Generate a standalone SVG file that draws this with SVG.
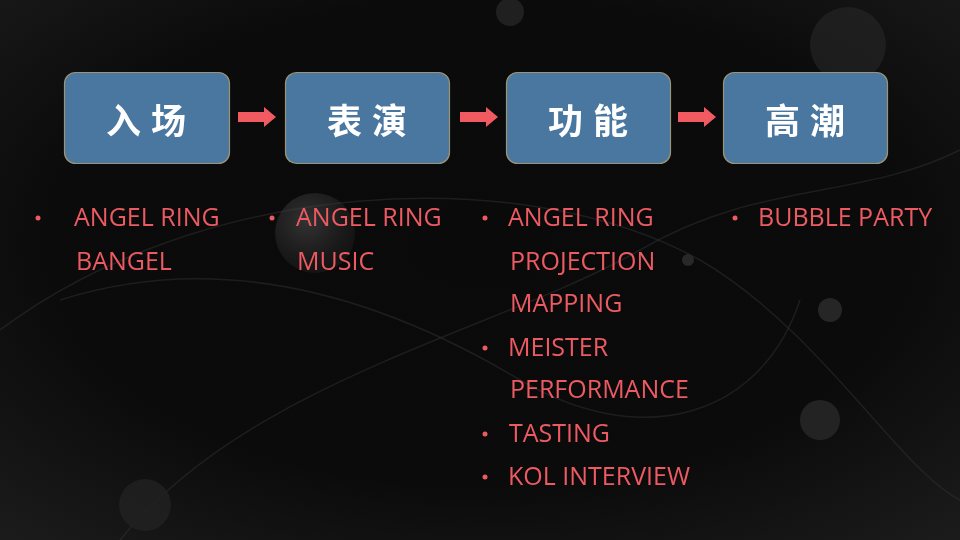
<svg xmlns="http://www.w3.org/2000/svg" width="960" height="540" viewBox="0 0 960 540">
<defs>
<radialGradient id="bg" cx="0.5" cy="0.45" r="0.75">
<stop offset="0" stop-color="#0a0a0a"/>
<stop offset="0.6" stop-color="#0b0b0b"/>
<stop offset="1" stop-color="#1c1c1c"/>
</radialGradient>
<radialGradient id="bub" cx="0.4" cy="0.35" r="0.6">
<stop offset="0" stop-color="#6a6a6a" stop-opacity="0.55"/>
<stop offset="1" stop-color="#333" stop-opacity="0.35"/>
</radialGradient>
<marker id="arr" viewBox="0 0 12 20" refX="0" refY="10" markerWidth="12" markerHeight="20" markerUnits="userSpaceOnUse" orient="auto">
<path d="M0,0 L12,10 L0,20 Z" fill="#f05a60"/>
</marker>
<style>
.box{fill:#4a77a0;stroke:#9c9474;stroke-width:1.2}
.cjk{font-family:"Noto Sans CJK SC","Noto Sans",sans-serif;font-weight:bold;font-size:35px;fill:#ffffff;text-anchor:middle;letter-spacing:10px}
.li{font-family:"Open Sans","Noto Sans",sans-serif;font-size:25px;fill:#ec5a62}
.dot{fill:#ec5a62}
.con{stroke:#f05a60;stroke-width:10;fill:none}
.deco{fill:none;stroke:#333;stroke-width:1.5;opacity:0.6}
</style>
</defs>
<rect width="960" height="540" fill="url(#bg)"/>
<g id="background" opacity="0.8">
<path class="deco" d="M0,330 C200,180 520,160 700,260 C820,330 900,470 960,500"/>
<path class="deco" d="M120,540 C250,380 500,330 640,250 C760,180 860,200 960,150"/>
<path class="deco" d="M60,300 C250,240 420,320 520,380 C640,450 760,420 800,300"/>
<circle cx="315" cy="233" r="40" fill="url(#bub)"/>
<circle cx="848" cy="45" r="38" fill="#2a2a2a" opacity="0.7"/>
<circle cx="145" cy="505" r="26" fill="#252525" opacity="0.8"/>
<circle cx="830" cy="310" r="12" fill="#2e2e2e"/>
<circle cx="820" cy="420" r="20" fill="#2a2a2a"/>
<circle cx="510" cy="12" r="14" fill="#262626"/>
<circle cx="688" cy="260" r="6" fill="#303030"/>
</g>
<g id="connectors">
<line class="con" x1="238" y1="117" x2="264" y2="117" marker-end="url(#arr)"/>
<line class="con" x1="460" y1="117" x2="486" y2="117" marker-end="url(#arr)"/>
<line class="con" x1="678" y1="117" x2="704" y2="117" marker-end="url(#arr)"/>
</g>
<g id="node1">
<rect class="box" x="64.5" y="72.5" width="165" height="91" rx="11"/>
<text class="cjk" x="151" y="134">入场</text>
</g>
<g id="node2">
<rect class="box" x="285.5" y="72.5" width="164" height="91" rx="11"/>
<text class="cjk" x="372" y="134">表演</text>
</g>
<g id="node3">
<rect class="box" x="506.5" y="72.5" width="164" height="91" rx="11"/>
<text class="cjk" x="593" y="134">功能</text>
</g>
<g id="node4">
<rect class="box" x="723.5" y="72.5" width="164" height="91" rx="11"/>
<text class="cjk" x="810" y="134">高潮</text>
</g>
<g id="list1">
<circle class="dot" cx="38" cy="218" r="2.5"/>
<text class="li" x="74" y="226">ANGEL RING</text>
<text class="li" x="76" y="270">BANGEL</text>
</g>
<g id="list2">
<circle class="dot" cx="272" cy="218" r="2.5"/>
<text class="li" x="296" y="226">ANGEL RING</text>
<text class="li" x="297" y="270">MUSIC</text>
</g>
<g id="list3">
<circle class="dot" cx="485" cy="218" r="2.5"/>
<text class="li" x="508" y="226">ANGEL RING</text>
<text class="li" x="510" y="270">PROJECTION</text>
<text class="li" x="510" y="312">MAPPING</text>
<circle class="dot" cx="485" cy="348" r="2.5"/>
<text class="li" x="508" y="356">MEISTER</text>
<text class="li" x="510" y="398">PERFORMANCE</text>
<circle class="dot" cx="485" cy="434" r="2.5"/>
<text class="li" x="509" y="442">TASTING</text>
<circle class="dot" cx="485" cy="477" r="2.5"/>
<text class="li" x="508" y="485">KOL INTERVIEW</text>
</g>
<g id="list4">
<circle class="dot" cx="735" cy="218" r="2.5"/>
<text class="li" x="758" y="226">BUBBLE PARTY</text>
</g>
</svg>
